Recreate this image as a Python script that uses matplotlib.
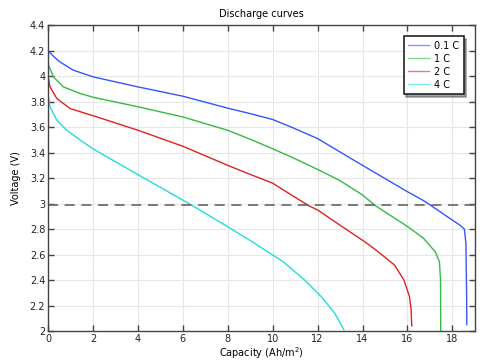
import matplotlib
matplotlib.use("Agg")
import matplotlib.pyplot as plt
from matplotlib.ticker import FuncFormatter

plt.rcParams['font.family'] = "DejaVu Sans"
plt.rcParams['font.size'] = 7

# discharge curves (capacity Ah/m2, voltage V)
cap_01 = [0, 0.25, 0.53, 1.13, 2, 4, 6, 8, 9, 10, 10.9, 12, 14, 16, 16.68, 17, 18, 18.34, 18.53, 18.6, 18.63, 18.64]
volt_01 = [4.2, 4.155, 4.112, 4.047, 3.995, 3.916, 3.843, 3.749, 3.706, 3.66, 3.595, 3.51, 3.30, 3.093, 3.027, 2.99, 2.87, 2.83, 2.80, 2.69, 2.3, 2.05]

cap_1 = [0, 0.24, 0.68, 1.42, 2, 4, 6, 8, 9, 10, 10.9, 12, 13, 14, 14.6, 16, 16.7, 17.24, 17.42, 17.47, 17.48]
volt_1 = [4.095, 3.995, 3.916, 3.865, 3.835, 3.76, 3.68, 3.575, 3.505, 3.43, 3.36, 3.268, 3.18, 3.067, 2.98, 2.82, 2.73, 2.62, 2.544, 2.40, 2.0]

cap_2 = [0, 0.09, 0.39, 0.98, 2, 4, 6, 8, 9, 10, 10.9, 11.64, 12, 13, 14.1, 14.6, 15.42, 15.84, 16.09, 16.16, 16.19]
volt_2 = [4.0, 3.916, 3.825, 3.746, 3.69, 3.576, 3.45, 3.30, 3.229, 3.16, 3.06, 2.98, 2.95, 2.83, 2.70, 2.635, 2.518, 2.40, 2.27, 2.165, 2.04]

cap_4 = [0, 0.09, 0.39, 0.83, 1.42, 2, 4, 6.37, 8, 9, 10, 10.46, 11.42, 12.16, 12.76, 13.17]
volt_4 = [3.86, 3.76, 3.655, 3.576, 3.50, 3.43, 3.228, 2.99, 2.818, 2.71, 2.596, 2.544, 2.40, 2.27, 2.14, 2.01]

cutoff = 2.985

labels = ["0.1 C", "1 C", "2 C", "4 C"]
colors = ["#3355ff", "#33bb44", "#dd2222", "#22dddd"]

fig = plt.figure(figsize=(4.84, 3.64), dpi=100)
ax = fig.add_axes([0.0992, 0.0907, 0.882, 0.840])

for c, v, lab, col in zip([cap_01, cap_1, cap_2, cap_4],
                          [volt_01, volt_1, volt_2, volt_4], labels, colors):
    ax.plot(c, v, color=col, lw=1, label=lab)

ax.axhline(cutoff, color="#666666", lw=1.2, ls=(0, (6, 4)))

ax.set_xlim(0, 19)
ax.set_ylim(2, 4.4)
ax.set_xticks(range(0, 19, 2))
ax.set_yticks([2 + 0.2 * i for i in range(13)])
ax.yaxis.set_major_formatter(FuncFormatter(lambda v, p: "%g" % round(v, 1)))

ax.tick_params(direction="in", top=True, right=True, length=4, width=1,
               color="#444444", labelcolor="#222222", pad=2)
for s in ax.spines.values():
    s.set_color("#444444")
    s.set_linewidth(1)

ax.grid(color="#e6e6e6", lw=0.8)
ax.set_axisbelow(True)

ax.set_title("Discharge curves", fontsize=7, pad=6)
ax.set_xlabel("Capacity (Ah/m$^2$)", labelpad=1)
ax.set_ylabel("Voltage (V)", labelpad=6)

leg = ax.legend(loc="upper right", fancybox=False, shadow=True, framealpha=1,
                edgecolor="#222222", handlelength=2.2, handletextpad=0.5,
                labelspacing=0.3, borderpad=0.45, borderaxespad=1.15)
leg.get_frame().set_linewidth(1.2)
for h in leg.get_lines():
    h.set_alpha(0.6)

fig.savefig("out.png", dpi=100)
